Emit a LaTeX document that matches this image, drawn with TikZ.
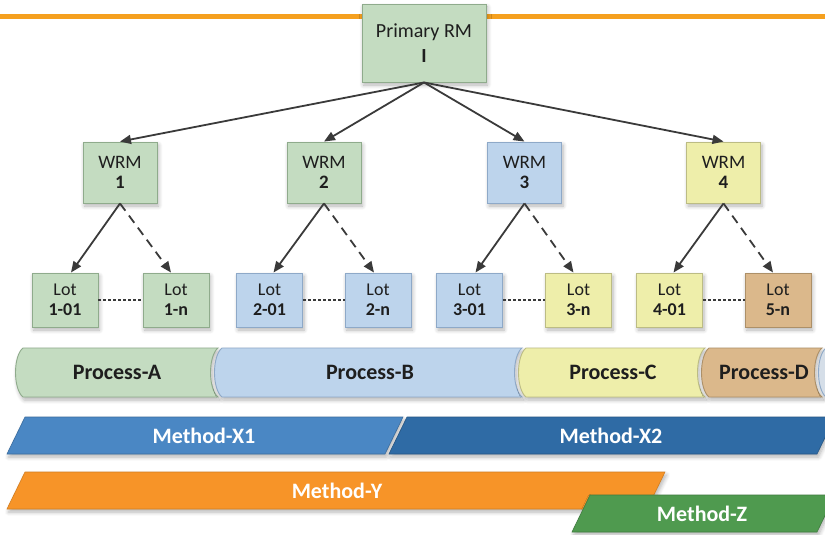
\documentclass[tikz,border=0pt]{standalone}
\usepackage{fontspec}
\setmainfont{Carlito}
\usetikzlibrary{arrows.meta,shadows,shadows.blur}

\definecolor{grnF}{HTML}{C4DCC1}
\definecolor{grnB}{HTML}{8FAB8C}
\definecolor{bluF}{HTML}{BDD4EC}
\definecolor{bluB}{HTML}{8EA9C8}
\definecolor{yelF}{HTML}{EEEEAA}
\definecolor{yelB}{HTML}{BCBC84}
\definecolor{tanF}{HTML}{DBB88B}
\definecolor{tanB}{HTML}{AD9068}
\definecolor{sliverF}{HTML}{D5DEE8}
\definecolor{mXone}{HTML}{4A87C4}
\definecolor{mXtwo}{HTML}{2F6BA5}
\definecolor{mY}{HTML}{F79428}
\definecolor{mZ}{HTML}{4F9A4F}
\definecolor{orangeLine}{HTML}{F5A01F}
\definecolor{txt}{HTML}{1E1E1E}
\definecolor{arr}{HTML}{3A3A3A}

\begin{document}
\begin{tikzpicture}[x=1pt,y=-1pt,
  softshadow/.style={blur shadow={shadow blur steps=6, shadow xshift=1.5pt, shadow yshift=-3pt, shadow opacity=30, shadow blur radius=4pt}},
  rmbox/.style 2 args={rectangle, fill=#1, draw=#2, line width=0.9pt, inner sep=0pt, align=center, text=txt, softshadow},
  primbox/.style={rmbox={grnF}{grnB}, minimum width=124pt, minimum height=78pt, font=\fontsize{20}{25}\selectfont},
  wrmbox/.style={rmbox={#1F}{#1B}, minimum width=74pt, minimum height=61pt, font=\fontsize{19}{20}\selectfont},
  lotbox/.style={rmbox={#1F}{#1B}, minimum width=66pt, minimum height=54pt, font=\fontsize{18}{20}\selectfont},
  solidarrow/.style={draw=arr, line width=1.8pt, -{Triangle[length=11pt,width=9pt]}},
  dasharrow/.style={solidarrow, dash pattern=on 9pt off 6pt},
  dotline/.style={draw=arr, line width=1.4pt, dash pattern=on 3pt off 2pt},
  proc/.style={line width=0.9pt, softshadow},
  proclabel/.style={font=\fontsize{22}{24}\selectfont\bfseries, text=txt, inner sep=0pt},
  meth/.style={softshadow},
  methlabel/.style={font=\fontsize{22}{24}\selectfont\bfseries, text=white, inner sep=0pt}
]
\useasboundingbox (0,0) rectangle (825,535);
\clip (0,0) rectangle (825,535);

% top orange rule
\coordinate (ruleL) at (0,16.5);
\coordinate (ruleR) at (825,16.5);
\draw[orangeLine, line width=5pt] (ruleL) -- (ruleR);

% primary
\node[primbox] (prim) at (424,43) {Primary RM\\\textbf{I}};

% WRM
\node[wrmbox=grn] (w1) at (120,172.5) {WRM\\\textbf{1}};
\node[wrmbox=grn] (w2) at (324,172.5) {WRM\\\textbf{2}};
\node[wrmbox=blu] (w3) at (524.5,172.5) {WRM\\\textbf{3}};
\node[wrmbox=yel] (w4) at (723.5,172.5) {WRM\\\textbf{4}};

% Lots
\node[lotbox=grn] (l11) at (65,300) {Lot\\\textbf{1-01}};
\node[lotbox=grn] (l1n) at (176,300) {Lot\\\textbf{1-n}};
\node[lotbox=blu] (l21) at (269.5,300) {Lot\\\textbf{2-01}};
\node[lotbox=blu] (l2n) at (378,300) {Lot\\\textbf{2-n}};
\node[lotbox=blu] (l31) at (469.5,300) {Lot\\\textbf{3-01}};
\node[lotbox=yel] (l3n) at (578.5,300) {Lot\\\textbf{3-n}};
\node[lotbox=yel] (l41) at (669.5,300) {Lot\\\textbf{4-01}};
\node[lotbox=tan] (l5n) at (778,300) {Lot\\\textbf{5-n}};

% primary arrows
\foreach \w in {w1,w2,w3,w4} \draw[solidarrow] (prim.south) -- (\w.north);

% WRM to lots
\draw[solidarrow] (w1.south) -- ([xshift=6pt]l11.north);
\draw[dasharrow] (w1.south) -- ([xshift=-5pt]l1n.north);
\draw[solidarrow] (w2.south) -- ([xshift=4pt]l21.north);
\draw[dasharrow] (w2.south) -- ([xshift=-4pt]l2n.north);
\draw[solidarrow] (w3.south) -- ([xshift=6pt]l31.north);
\draw[dasharrow] (w3.south) -- ([xshift=-5pt]l3n.north);
\draw[solidarrow] (w4.south) -- ([xshift=4pt]l41.north);
\draw[dasharrow] (w4.south) -- ([xshift=-5pt]l5n.north);

% dotted links
\draw[dotline] (l11.east) -- (l1n.west);
\draw[dotline] (l21.east) -- (l2n.west);
\draw[dotline] (l31.east) -- (l3n.west);
\draw[dotline] (l41.east) -- (l5n.west);

% processes
\path[proc, fill=grnF, draw=grnB] (23,348) .. controls (13,356) and (13,389) .. (23,397) -- (218,397) .. controls (208,389) and (208,356) .. (218,348) -- cycle;
\path[proc, fill=bluF, draw=bluB] (222,348) .. controls (212,356) and (212,389) .. (222,397) -- (522,397) .. controls (512,389) and (512,356) .. (522,348) -- cycle;
\path[proc, fill=yelF, draw=yelB] (526,348) .. controls (516,356) and (516,389) .. (526,397) -- (705,397) .. controls (695,389) and (695,356) .. (705,348) -- cycle;
\path[proc, fill=tanF, draw=tanB] (709,348) .. controls (699,356) and (699,389) .. (709,397) -- (822,397) .. controls (812,389) and (812,356) .. (822,348) -- cycle;
\path[proc, fill=sliverF, draw=bluB] (826,348) .. controls (816,356) and (816,389) .. (826,397) -- (900,397) -- (900,348) -- cycle;
\node[proclabel] (pA) at (117,372.5) {Process-A};
\node[proclabel] (pB) at (370,372.5) {Process-B};
\node[proclabel] (pC) at (613,372.5) {Process-C};
\node[proclabel] (pD) at (764,372.5) {Process-D};

% methods
\path[meth, fill=mXone, draw=mXone!80!black, line width=0.6pt] (7,454) -- (25,417) -- (403,417) -- (385,454) -- cycle;
\path[meth, fill=mXtwo, draw=mXtwo!80!black, line width=0.6pt] (389,454) -- (407,417) -- (835,417) -- (817,454) -- cycle;
\node[methlabel] (mx1) at (204,436) {Method-X1};
\node[methlabel] (mx2) at (611,436) {Method-X2};
\path[meth, fill=mY, draw=mY!85!black, line width=0.6pt] (7,509) -- (25,472) -- (665,472) -- (647,509) -- cycle;
\node[methlabel] (my) at (337,490.5) {Method-Y};
\path[meth, fill=mZ, draw=mZ!80!black, line width=0.6pt] (572,532) -- (590,495) -- (835,495) -- (817,532) -- cycle;
\node[methlabel] (mz) at (702,513.5) {Method-Z};
\end{tikzpicture}
\end{document}
